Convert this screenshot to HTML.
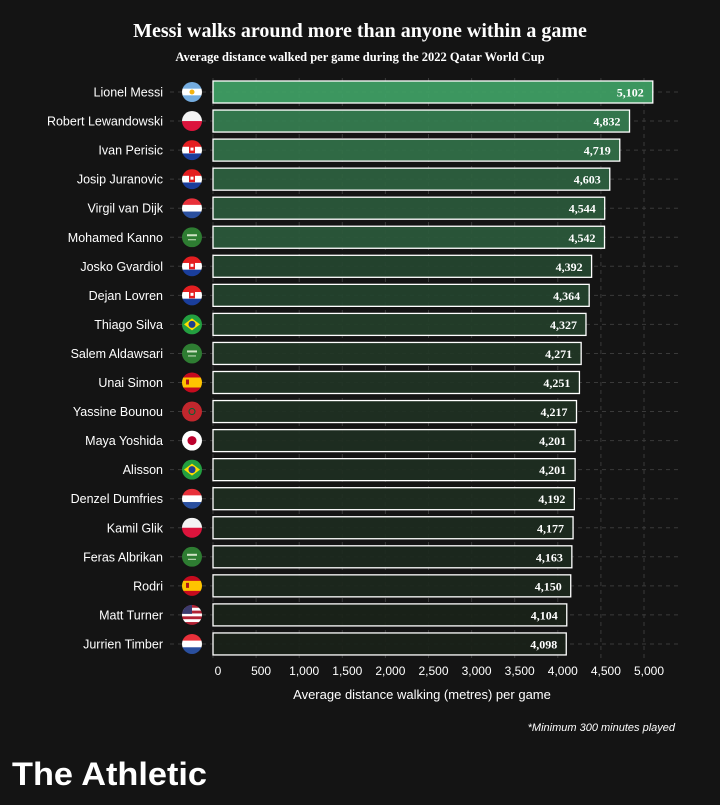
<!DOCTYPE html>
<html><head><meta charset="utf-8"><style>
body{margin:0;background:#141414;width:720px;height:800px;overflow:hidden}
</style></head><body>
<svg id="s" width="720" height="800" xmlns="http://www.w3.org/2000/svg" font-family="Liberation Sans, sans-serif">
<rect width="720" height="800" fill="#141414"/>
<text x="360" y="37" fill="#fff" font-family="Liberation Serif, serif" font-weight="bold" font-size="20" text-anchor="middle">Messi walks around more than anyone within a game</text>
<text x="360" y="61" fill="#fff" font-family="Liberation Serif, serif" font-weight="bold" font-size="12.5" text-anchor="middle">Average distance walked per game during the 2022 Qatar World Cup</text>
<g id="g"></g>
<text x="422" y="699" fill="#fff" font-size="13" text-anchor="middle">Average distance walking (metres) per game</text>
<text x="675" y="731" fill="#fff" font-size="11" font-style="italic" text-anchor="end">*Minimum 300 minutes played</text>
<text x="12" y="785" fill="#fff" font-weight="bold" font-size="32" textLength="195" lengthAdjust="spacingAndGlyphs">The Athletic</text>
</svg>
<script>
const d=[["Lionel Messi",5102,"ar"],["Robert Lewandowski",4832,"pl"],["Ivan Perisic",4719,"hr"],["Josip Juranovic",4603,"hr"],["Virgil van Dijk",4544,"nl"],["Mohamed Kanno",4542,"sa"],["Josko Gvardiol",4392,"hr"],["Dejan Lovren",4364,"hr"],["Thiago Silva",4327,"br"],["Salem Aldawsari",4271,"sa"],["Unai Simon",4251,"es"],["Yassine Bounou",4217,"ma"],["Maya Yoshida",4201,"jp"],["Alisson",4201,"br"],["Denzel Dumfries",4192,"nl"],["Kamil Glik",4177,"pl"],["Feras Albrikan",4163,"sa"],["Rodri",4150,"es"],["Matt Turner",4104,"us"],["Jurrien Timber",4098,"nl"]];
const x0=213,k=0.0862,y0=92,p=29.05;let h='';
for(let v=0;v<=5000;v+=500){const x=x0+v*k;h+=`<line x1="${x}" y1="78" x2="${x}" y2="660" stroke="#3a3a3a" stroke-dasharray="4 4"/>`;h+=`<text x="${x+5}" y="675" fill="#fff" font-size="12" text-anchor="middle">${v.toLocaleString('en-US')}</text>`}
function flag(c,cx,cy){let r=10,s='';const bands=(cols,vert)=>cols.map((col,i)=>vert?`<rect x="${cx-r+i*2*r/cols.length}" y="${cy-r}" width="${2*r/cols.length+.5}" height="${2*r}" fill="${col}"/>`:`<rect x="${cx-r}" y="${cy-r+i*2*r/cols.length}" width="${2*r}" height="${2*r/cols.length+.5}" fill="${col}"/>`).join('');
if(c=="ar")s=bands(["#74acdf","#fff","#74acdf"])+`<circle cx="${cx}" cy="${cy}" r="2.5" fill="#f6b40e"/>`;
if(c=="pl")s=bands(["#f4f4f4","#dc143c"]);
if(c=="hr")s=bands(["#e41e20","#fff","#1a3e9c"])+`<rect x="${cx-3}" y="${cy-4}" width="6" height="7" fill="#e41e20"/><rect x="${cx-1.5}" y="${cy-2.5}" width="3" height="3" fill="#fff"/>`;
if(c=="nl")s=bands(["#e8303a","#fff","#2a4f9e"]);
if(c=="sa")s=`<rect x="${cx-r}" y="${cy-r}" width="20" height="20" fill="#2e7d32"/><rect x="${cx-5}" y="${cy-3}" width="10" height="2" fill="#cfe3c5"/><rect x="${cx-4}" y="${cy+2}" width="8" height="1" fill="#cfe3c5"/>`;
if(c=="br")s=`<rect x="${cx-r}" y="${cy-r}" width="20" height="20" fill="#239f40"/><polygon points="${cx-8},${cy} ${cx},${cy-6} ${cx+8},${cy} ${cx},${cy+6}" fill="#fedf00"/><circle cx="${cx}" cy="${cy}" r="3.5" fill="#1f3f8f"/>`;
if(c=="es")s=bands(["#c60b1e","#ffc400","#ffc400","#c60b1e"])+`<rect x="${cx-6}" y="${cy-3}" width="3" height="5" fill="#ad1519"/>`;
if(c=="ma")s=`<rect x="${cx-r}" y="${cy-r}" width="20" height="20" fill="#c1272d"/><circle cx="${cx}" cy="${cy}" r="3" fill="none" stroke="#006233" stroke-width="1"/>`;
if(c=="jp")s=`<rect x="${cx-r}" y="${cy-r}" width="20" height="20" fill="#fff"/><circle cx="${cx}" cy="${cy}" r="4.5" fill="#bc002d"/>`;
if(c=="us"){s=bands(["#b22234","#fff","#b22234","#fff","#b22234","#fff","#b22234"])+`<rect x="${cx-r}" y="${cy-r}" width="10" height="9" fill="#3c3b6e"/>`}
return `<clipPath id="c${cy|0}"><circle cx="${cx}" cy="${cy}" r="${r}"/></clipPath><g clip-path="url(#c${cy|0})">${s}</g>`}
d.forEach((r,i)=>{const y=y0+i*p,t=(r[1]-4098)/(5102-4098);
const col=`rgb(${Math.round(26+t*38)},${Math.round(33+t*127)},${Math.round(25+t*76)})`;
h+=`<line x1="170" y1="${y}" x2="680" y2="${y}" stroke="#3a3a3a" stroke-dasharray="4 4"/>`;
const w=r[1]*k;h+=`<rect x="${x0}" y="${y-11}" width="${w}" height="22" fill="${col}" fill-opacity="0.93" stroke="#fff" stroke-width="1.3"/>`;
h+=`<text x="${x0+w-9}" y="${y+4.5}" fill="#fff" font-family="Liberation Serif, serif" font-weight="bold" font-size="12" text-anchor="end">${r[1].toLocaleString('en-US')}</text>`;
h+=`<text x="163" y="${y+4.5}" fill="#fff" font-size="12.5" text-anchor="end">${r[0]}</text>`;
h+=flag(r[2],192,y);});
document.getElementById('g').innerHTML=h;
</script>
</body></html>
